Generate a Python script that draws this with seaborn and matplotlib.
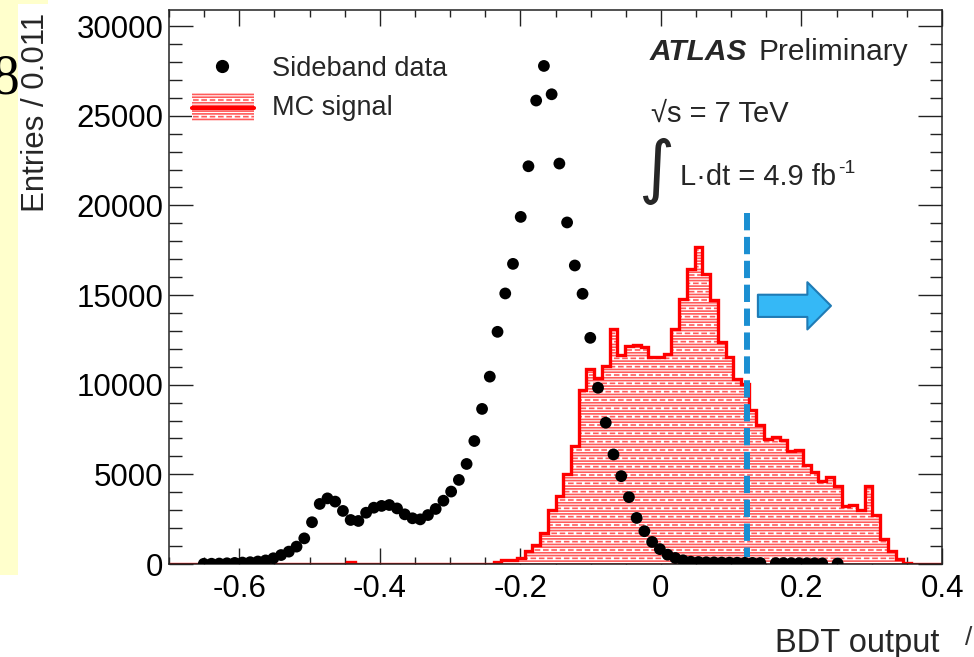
import numpy as np
import matplotlib
matplotlib.use("Agg")
import matplotlib.pyplot as plt
from matplotlib.patches import Rectangle
from matplotlib.ticker import MultipleLocator
import seaborn as sns

nan = np.nan

# binning: 100 bins of 0.011 between -0.7 and 0.4
edges = np.linspace(-0.7, 0.4, 101)
centers = 0.5 * (edges[:-1] + edges[1:])

# sideband data (entries per bin, NaN = no marker drawn)
sideband = [
    nan, nan, nan, nan, 10, 15, 25, 40, 60, 80,
    100, 140, 200, 320, 500, 690, 970, 1430, 2330, 3350,
    3660, 3480, 2960, 2455, 2400, 2860, 3140, 3240, 3290, 3100,
    2770, 2550, 2490, 2730, 3070, 3530, 4040, 4690, 5580, 6860,
    8650, 10450, 12950, 15090, 16740, 19360, 22185, 25850, 27780, 26200,
    22335, 19050, 16650, 15070, 12615, 9830, 7880, 6110, 4900, 3730,
    2570, 1830, 1230, 830, 520, 335, 205, 130, 110, 95,
    90, 80, 75, 70, 65, 60, 55, nan, 50, 50,
    45, 45, 40, 40, 35, nan, 30, nan, nan, nan,
    nan, nan, nan, nan, nan, nan, nan, nan, nan, nan,
]

# MC signal histogram
mc_signal = [
    0, 0, 0, 0, 0, 0, 0, 0, 0, 0,
    0, 0, 0, 0, 0, 0, 0, 0, 0, 0,
    0, 0, 0, 110, 0, 0, 0, 0, 0, 0,
    0, 0, 0, 0, 0, 0, 0, 0, 0, 0,
    0, 20, 120, 220, 220, 340, 700, 1080, 1730, 3030,
    3780, 5030, 6560, 9710, 10860, 10370, 11020, 13080, 11660, 12150,
    12210, 12100, 11530, 11530, 11730, 13110, 14780, 16460, 17690, 16200,
    14750, 12400, 11540, 10320, 10050, 8600, 7770, 6970, 7080, 6890,
    6280, 6340, 5540, 5110, 4610, 4830, 4330, 3210, 3310, 3030,
    4330, 2750, 1390, 740, 300, 70, 0, 0, 0, 0,
]

x_ticks = [-0.6, -0.4, -0.2, 0, 0.2, 0.4]
x_ticklabels = ['-0.6', '-0.4', '-0.2', '0', '0.2', '0.4']
y_ticks = [0, 5000, 10000, 15000, 20000, 25000, 30000]
y_ticklabels = ['0', '5000', '10000', '15000', '20000', '25000', '30000']

bdt_cut = 0.122

sns.set_theme(style="ticks")
plt.rcParams['font.family'] = ['Liberation Sans', 'DejaVu Sans']
plt.rcParams['axes.unicode_minus'] = False
plt.rcParams['hatch.linewidth'] = 0.8

MC_FILL = '#ff5a5a'
MC_HATCH = '------..'

W, H = 974, 657
fig = plt.figure(figsize=(W / 100, H / 100), dpi=100)
fig.patch.set_facecolor('white')
ax = fig.add_axes([169 / W, 1 - 564 / H, 773 / W, 554 / H])

# slide background bits on the left
fig.patches.append(Rectangle((0, 1 - 575 / H), 18 / W, 575 / H, transform=fig.transFigure,
                             fc='#ffffcc', ec='none', zorder=0))
fig.patches.append(Rectangle((18 / W, 1 - 4 / H), 30 / W, 4 / H, transform=fig.transFigure,
                             fc='#ffffcc', ec='none', zorder=0))
fig.text(-8 / W, 1 - 94 / H, '8', fontsize=40, family='Liberation Serif', color='black',
         ha='left', va='baseline')
fig.text(965 / W, 1 - 645 / H, '/', fontsize=19, color='#333333', ha='left', va='baseline')

# MC signal histogram
ax.stairs(mc_signal, edges, fill=True, facecolor=MC_FILL, edgecolor='none', zorder=1)
ax.stairs(mc_signal, edges, fill=True, facecolor='none', edgecolor='white', hatch=MC_HATCH,
          linewidth=0, zorder=1.1)
ax.stairs(mc_signal, edges, color='red', linewidth=2.4, zorder=2)

# cut line + arrow
ax.plot([bdt_cut, bdt_cut], [19580, 400], color='#1b8fd2', lw=4.3, dashes=(2.9, 1.1),
        solid_capstyle='butt', zorder=3)
ax.annotate('', xy=(0.242, 14400), xytext=(0.138, 14400),
            arrowprops=dict(arrowstyle='simple,head_length=1.7,head_width=3.4,tail_width=1.6',
                            mutation_scale=10, fc='#35b8f6', ec='#1f7bb5', lw=1.5,
                            shrinkA=0, shrinkB=0), zorder=3)

# sideband data
sns.scatterplot(x=centers, y=sideband, color='black', s=72, edgecolor='none',
                zorder=4, ax=ax, legend=False)

ax.set_xlim(-0.7, 0.4)
ax.set_ylim(0, 30900)
ax.set_xticks(x_ticks)
ax.set_xticklabels(x_ticklabels)
ax.set_yticks(y_ticks)
ax.set_yticklabels(y_ticklabels)
ax.xaxis.set_minor_locator(MultipleLocator(0.05))
ax.yaxis.set_minor_locator(MultipleLocator(1000))
ax.tick_params(which='both', direction='in', top=True, right=True, color='#222222',
               width=1.0, labelsize=22.5, labelcolor='black')
ax.tick_params(axis='x', which='major', length=11.5, pad=7)
ax.tick_params(axis='x', which='minor', length=5)
ax.tick_params(axis='y', which='major', length=17, pad=4)
ax.tick_params(axis='y', which='minor', length=9)
for sp in ax.spines.values():
    sp.set_linewidth(1.1)
    sp.set_color('#222222')
ax.set_xlabel('')
ax.set_ylabel('')

ax.text(-0.172, 0.995, 'Entries / 0.011', rotation=90, ha='center', va='top',
        fontsize=22.5, transform=ax.transAxes)
ax.text(0.997, -0.159, 'BDT output', ha='right', va='baseline', fontsize=23.5,
        transform=ax.transAxes)

# legend
ax.plot([0.0686], [0.899], 'o', color='black', ms=8.5, transform=ax.transAxes, clip_on=False)
ax.text(0.1332, 0.881, 'Sideband data', fontsize=19.5, va='baseline', transform=ax.transAxes)
ax.add_patch(Rectangle((0.0298, 0.800), 0.0802, 0.050, transform=ax.transAxes,
                       fc=MC_FILL, ec='none', zorder=5))
ax.add_patch(Rectangle((0.0298, 0.800), 0.0802, 0.050, transform=ax.transAxes,
                       fc='none', ec='white', hatch=MC_HATCH, lw=0, zorder=5.1))
ax.plot([0.0298, 0.110], [0.823, 0.823], color='red', lw=3, transform=ax.transAxes, zorder=6)
ax.text(0.1332, 0.8105, 'MC signal', fontsize=19.5, va='baseline', transform=ax.transAxes)

# labels
ax.text(0.622, 0.9097, 'ATLAS', fontsize=21.5, fontweight='bold', fontstyle='italic',
        va='baseline', transform=ax.transAxes)
ax.text(0.763, 0.9097, 'Preliminary', fontsize=21.5, va='baseline', transform=ax.transAxes)
ax.text(0.6235, 0.798, '√s = 7 TeV', fontsize=21, va='baseline', transform=ax.transAxes)
ax.text(0.630, 0.709, '∫', fontsize=50, family='DejaVu Sans', ha='center', va='center',
        transform=ax.transAxes)
ax.text(0.661, 0.684, 'L·dt = 4.9 fb', fontsize=21, va='baseline', transform=ax.transAxes)
ax.text(0.8655, 0.7058, '-1', fontsize=14, va='baseline', transform=ax.transAxes)

plt.savefig('out.png', dpi=100)
plt.close()
print("✓ out.png")
